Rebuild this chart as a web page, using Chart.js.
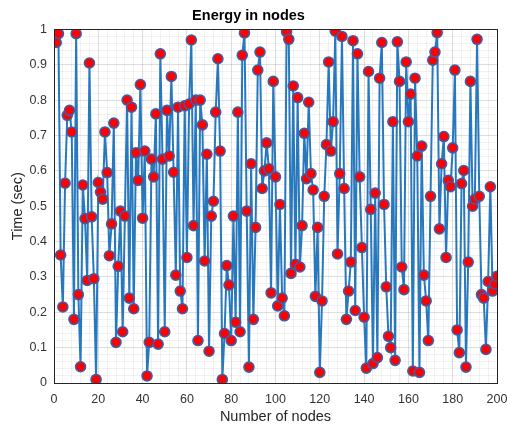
<!DOCTYPE html>
<html>
<head>
<meta charset="utf-8">
<script src="https://cdn.jsdelivr.net/npm/chart.js@4"></script>
<style>
  html, body { margin: 0; padding: 0; background: #fff; }
  canvas { display: block; }
</style>
</head>
<body>
<canvas id="energy-chart" width="507" height="430"></canvas>
<script>
// values, one per node (1..200)
let energy = [
  0.963, 0.988, 0.362, 0.215, 0.565, 0.757, 0.771, 0.71, 0.18, 0.988,
  0.25, 0.046, 0.56, 0.465, 0.29, 0.905, 0.47, 0.295, 0.01, 0.567,
  0.54, 0.52, 0.71, 0.595, 0.36, 0.45, 0.735, 0.115, 0.33, 0.486,
  0.145, 0.472, 0.8, 0.24, 0.78, 0.21, 0.651, 0.573, 0.844, 0.466,
  0.656, 0.02, 0.115, 0.633, 0.583, 0.761, 0.11, 0.931, 0.633, 0.145,
  0.771, 0.642, 0.867, 0.596, 0.305, 0.78, 0.26, 0.21, 0.784, 0.355,
  0.789, 0.97, 0.445, 0.8, 0.12, 0.8, 0.73, 0.345, 0.647, 0.09,
  0.472, 0.514, 0.766, 0.917, 0.656, 0.01, 0.14, 0.332, 0.277, 0.12,
  0.472, 0.172, 0.766, 0.145, 0.927, 0.99, 0.486, 0.045, 0.62, 0.18,
  0.44, 0.885, 0.936, 0.55, 0.6, 0.679, 0.606, 0.255, 0.853, 0.583,
  0.218, 0.505, 0.24, 0.19, 0.993, 0.972, 0.31, 0.84, 0.336, 0.807,
  0.328, 0.445, 0.706, 0.578, 0.794, 0.592, 0.546, 0.245, 0.44, 0.03,
  0.232, 0.528, 0.674, 0.908, 0.656, 0.739, 0.995, 0.365, 0.592, 0.98,
  0.55, 0.18, 0.26, 0.342, 0.968, 0.205, 0.931, 0.583, 0.383, 0.186,
  0.042, 0.881, 0.491, 0.055, 0.537, 0.072, 0.862, 0.963, 0.505, 0.272,
  0.132, 0.1, 0.739, 0.064, 0.965, 0.853, 0.328, 0.264, 0.908, 0.739,
  0.817, 0.034, 0.862, 0.642, 0.03, 0.67, 0.305, 0.232, 0.12, 0.528,
  0.913, 0.936, 0.991, 0.436, 0.62, 0.697, 0.355, 0.573, 0.555, 0.665,
  0.885, 0.15, 0.086, 0.564, 0.601, 0.045, 0.342, 0.853, 0.5, 0.52,
  0.972, 0.528, 0.25, 0.24, 0.095, 0.287, 0.555, 0.26, 0.28, 0.302
]

// node numbers go with the values above
let nodeIds = energy.map(function(v, i) { return i + 1 })

let xTicks = [0, 20, 40, 60, 80, 100, 120, 140, 160, 180, 200]
let yTicks = [0, 0.1, 0.2, 0.3, 0.4, 0.5, 0.6, 0.7, 0.8, 0.9, 1]

let fontFamily = '"Liberation Sans", Arial, Helvetica, sans-serif'

function isMajor(value, step) {
    let r = value / step
    return Math.abs(r - Math.round(r)) < 1e-6
}

// box around the axes, like matlab "box on"
let boxPlugin = {
    id: 'axesBox',
    afterDraw: function(chart) {
        let a = chart.chartArea
        let c = chart.ctx
        c.save()
        c.strokeStyle = '#262626'
        c.lineWidth = 1
        c.strokeRect(Math.round(a.left) + 0.5, Math.round(a.top) + 0.5,
            Math.round(a.right - a.left), Math.round(a.bottom - a.top))
        c.restore()
    }
}

let ctx = document.querySelector('#energy-chart').getContext('2d')

let energyChart = new Chart(ctx, {
    type: 'line',
    data: {
        datasets: [{
            label: 'Energy',
            data: nodeIds.map(function(n, i) { return { x: n, y: energy[i] } }),
            borderColor: '#2878bd',
            borderWidth: 2,
            pointRadius: 5,
            pointBackgroundColor: '#ff0000',
            pointBorderColor: '#3c5ea8',
            pointBorderWidth: 1.6,
            tension: 0
        }]
    },
    plugins: [boxPlugin],
    options: {
        responsive: false,
        animation: false,
        layout: { padding: { left: 0, right: 10, top: 0, bottom: 0 } },
        plugins: {
            legend: { display: false },
            tooltip: { enabled: false },
            title: {
                display: true,
                text: 'Energy in nodes',
                color: '#000',
                font: { family: fontFamily, size: 14.5, weight: 'bold' },
                padding: { top: 7, bottom: 5 }
            }
        },
        scales: {
            x: {
                type: 'linear',
                min: 0,
                max: 200,
                afterBuildTicks: function(axis) {
                    let t = []
                    for (let v = 0; v <= 200; v += 4) t.push({ value: v })
                    axis.ticks = t
                },
                afterFit: function(axis) {
                    axis.height = 47
                    axis.paddingRight = 0
                    axis.paddingLeft = 0
                },
                ticks: {
                    color: '#333',
                    font: { family: fontFamily, size: 12.5 },
                    padding: 5,
                    maxRotation: 0,
                    autoSkip: false,
                    callback: function(v) { return xTicks.indexOf(v) >= 0 ? String(v) : '' }
                },
                grid: {
                    color: function(c) { return isMajor(c.tick.value, 20) ? 'rgba(0,0,0,0.13)' : 'rgba(0,0,0,0.05)' },
                    tickLength: 4,
                    tickColor: 'rgba(0,0,0,0)'
                },
                border: { display: false },
                title: {
                    display: true,
                    text: 'Number of nodes',
                    color: '#262626',
                    font: { family: fontFamily, size: 14.5 },
                    padding: { top: 0, bottom: 4 }
                }
            },
            y: {
                min: 0,
                max: 1,
                afterBuildTicks: function(axis) {
                    let t = []
                    for (let k = 0; k <= 50; k++) t.push({ value: k / 50 })
                    axis.ticks = t
                },
                afterFit: function(axis) { axis.width = 54 },
                ticks: {
                    color: '#333',
                    font: { family: fontFamily, size: 12.5 },
                    padding: 3,
                    autoSkip: false,
                    callback: function(v) {
                        let hit = yTicks.find(function(t) { return Math.abs(t - v) < 1e-6 })
                        return hit === undefined ? '' : String(hit)
                    }
                },
                grid: {
                    color: function(c) { return isMajor(c.tick.value, 0.1) ? 'rgba(0,0,0,0.13)' : 'rgba(0,0,0,0.05)' },
                    tickLength: 4,
                    tickColor: 'rgba(0,0,0,0)'
                },
                border: { display: false },
                title: {
                    display: true,
                    text: 'Time (sec)',
                    color: '#262626',
                    font: { family: fontFamily, size: 14.5 },
                    padding: { top: 9, bottom: 0 }
                }
            }
        }
    }
})
</script>
</body>
</html>
